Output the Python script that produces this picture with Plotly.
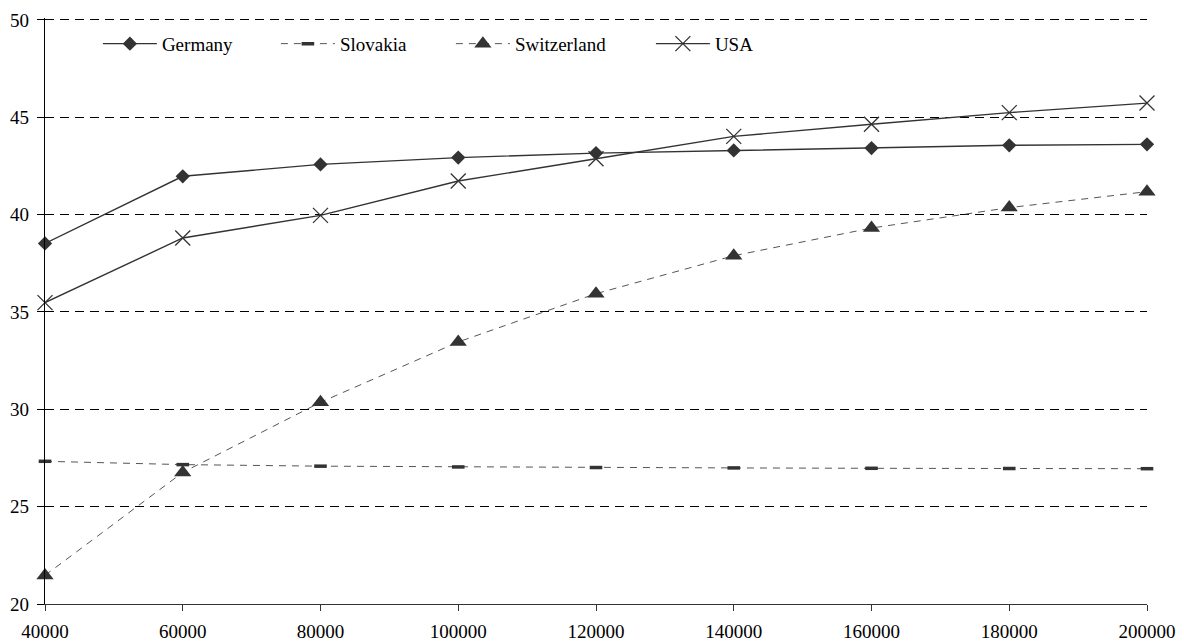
import plotly.graph_objects as go

x_values = [40000, 60000, 80000, 100000, 120000, 140000, 160000, 180000, 200000]
germany = [38.52, 41.97, 42.58, 42.93, 43.16, 43.30, 43.42, 43.56, 43.61]
slovakia = [27.33, 27.16, 27.08, 27.04, 27.01, 26.99, 26.97, 26.96, 26.95]
switzerland = [21.47, 26.76, 30.36, 33.46, 35.94, 37.89, 39.31, 40.36, 41.18]
usa = [35.48, 38.80, 39.96, 41.73, 42.87, 44.02, 44.64, 45.24, 45.73]
y_ticks = [20, 25, 30, 35, 40, 45, 50]

FONT = "Liberation Serif"
MC = "#333333"

fig = go.Figure()
fig.add_trace(go.Scatter(
    x=x_values, y=germany, name="Germany", mode="lines+markers",
    line=dict(color=MC, width=1.4),
    marker=dict(symbol="diamond", size=11, color=MC),
    legendwidth=109, cliponaxis=False,
))
fig.add_trace(go.Scatter(
    x=x_values, y=slovakia, name="Slovakia", mode="lines+markers",
    line=dict(color="#555555", width=1, dash="7px,6px"),
    marker=dict(symbol="line-ew", size=9, color=MC, line=dict(color=MC, width=3.5)),
    legendwidth=106, cliponaxis=False,
))
fig.add_trace(go.Scatter(
    x=x_values, y=switzerland, name="Switzerland", mode="lines+markers",
    line=dict(color="#555555", width=1, dash="7px,6px"),
    marker=dict(symbol="triangle-up", size=15, color=MC),
    legendwidth=131, cliponaxis=False,
))
fig.add_trace(go.Scatter(
    x=x_values, y=usa, name="USA", mode="lines+markers",
    line=dict(color=MC, width=1.4),
    marker=dict(symbol="x-thin", size=15, color=MC, line=dict(color=MC, width=1.3)),
    legendwidth=60, cliponaxis=False,
))

fig.update_layout(
    width=1176, height=633,
    margin=dict(l=37, r=37, t=10, b=37, pad=0, autoexpand=False),
    paper_bgcolor="white", plot_bgcolor="white",
    font=dict(family=FONT, size=19, color="black"),
    showlegend=True,
    legend=dict(
        orientation="h", x=0.048, xanchor="left", y=0.956, yanchor="middle",
        bgcolor="rgba(0,0,0,0)", font=dict(family=FONT, size=19, color="black"),
        itemwidth=54, tracegroupgap=0, itemclick=False,
    ),
    xaxis=dict(
        range=[40000, 200000], tickvals=x_values, ticktext=[str(v) for v in x_values],
        showgrid=False, zeroline=False, automargin=False,
        showline=True, linecolor="#333333", linewidth=1.3,
        ticks="outside", ticklen=6, tickcolor="#333333", tickwidth=1,
        tickfont=dict(family=FONT, size=19, color="black"),
        ticklabelstandoff=4,
    ),
    yaxis=dict(
        range=[20, 50.1], tickvals=y_ticks,
        showgrid=True, gridcolor="black", gridwidth=1, griddash="9px,6px",
        zeroline=False, automargin=False,
        showline=True, linecolor="black", linewidth=1.3,
        ticks="outside", ticklen=7, tickcolor="black", tickwidth=1,
        tickfont=dict(family=FONT, size=19, color="black"),
        ticklabelstandoff=4,
    ),
)

fig.write_html("out.html")
